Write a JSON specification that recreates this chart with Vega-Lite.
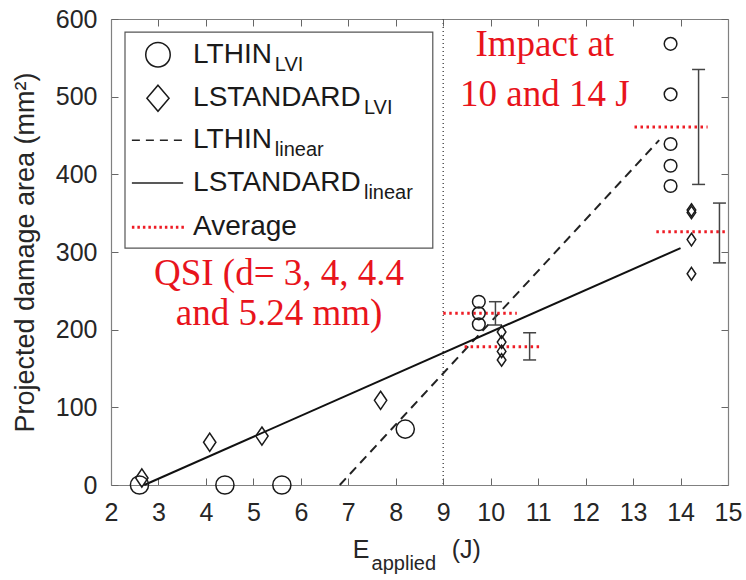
{
  "$schema": "https://vega.github.io/schema/vega-lite/v6.json",
  "width": 617,
  "height": 466,
  "autosize": "none",
  "padding": {"left": 111, "top": 19, "right": 18, "bottom": 95},
  "background": "white",
  "view": {"stroke": null},
  "config": {"font": "Liberation Sans"},
  "datasets": {
    "circles": [
      {"E": 2.6, "A": 0, "group": "QSI"},
      {"E": 4.4, "A": 0, "group": "QSI"},
      {"E": 5.6, "A": 0, "group": "QSI"},
      {"E": 8.2, "A": 72, "group": "QSI"},
      {"E": 9.75, "A": 236, "group": "Impact"},
      {"E": 9.75, "A": 221, "group": "Impact"},
      {"E": 9.75, "A": 207, "group": "Impact"},
      {"E": 13.79, "A": 568, "group": "Impact"},
      {"E": 13.79, "A": 503, "group": "Impact"},
      {"E": 13.79, "A": 439, "group": "Impact"},
      {"E": 13.79, "A": 411, "group": "Impact"},
      {"E": 13.79, "A": 385, "group": "Impact"}
    ],
    "diamonds": [
      {"E": 2.65, "A": 9, "group": "QSI"},
      {"E": 4.08, "A": 55, "group": "QSI"},
      {"E": 5.18, "A": 63, "group": "QSI"},
      {"E": 7.68, "A": 109, "group": "QSI"},
      {"E": 10.23, "A": 197, "group": "Impact"},
      {"E": 10.23, "A": 184, "group": "Impact"},
      {"E": 10.23, "A": 172, "group": "Impact"},
      {"E": 10.23, "A": 161, "group": "Impact"},
      {"E": 14.23, "A": 354, "group": "Impact"},
      {"E": 14.23, "A": 351, "group": "Impact"},
      {"E": 14.23, "A": 316, "group": "Impact"},
      {"E": 14.23, "A": 272, "group": "Impact"}
    ],
    "thinFit": [{"E": 6.82, "A": 0}, {"E": 13.55, "A": 444}],
    "stdFit": [{"E": 2.7, "A": 0}, {"E": 14.0, "A": 305}],
    "averages": [
      {"E1": 9.0, "E2": 10.55, "A": 221},
      {"E1": 9.45, "E2": 11.03, "A": 178},
      {"E1": 13.03, "E2": 14.57, "A": 461},
      {"E1": 13.49, "E2": 15.0, "A": 326}
    ],
    "errors": [
      {"E": 10.1, "lo": 206, "hi": 236},
      {"E": 10.82, "lo": 161, "hi": 196},
      {"E": 14.38, "lo": 387, "hi": 535},
      {"E": 14.82, "lo": 286, "hi": 363}
    ],
    "legendBox": [{"E1": 2.295, "E2": 8.78, "A1": 305, "A2": 583}],
    "legendCircle": [{"E": 2.99, "A": 554}],
    "legendDiamond": [{"E": 2.99, "A": 498}],
    "legendDashed": [{"E1": 2.44, "E2": 3.52, "A": 444}],
    "legendSolid": [{"E1": 2.44, "E2": 3.52, "A": 389}],
    "legendAvg": [{"E1": 2.44, "E2": 3.56, "A": 332}],
    "legendMain": [
      {"E": 3.73, "A": 554, "label": "LTHIN"},
      {"E": 3.73, "A": 498, "label": "LSTANDARD"},
      {"E": 3.73, "A": 444, "label": "LTHIN"},
      {"E": 3.73, "A": 389, "label": "LSTANDARD"},
      {"E": 3.73, "A": 332, "label": "Average"}
    ],
    "legendSub": [
      {"E": 5.45, "A": 541, "label": "LVI"},
      {"E": 7.33, "A": 485, "label": "LVI"},
      {"E": 5.45, "A": 431, "label": "linear"},
      {"E": 7.33, "A": 376, "label": "linear"}
    ],
    "notes": [
      {"E": 11.14, "A": 553, "label": "Impact at"},
      {"E": 11.14, "A": 488, "label": "10 and 14 J"},
      {"E": 5.54, "A": 258, "label": "QSI (d= 3, 4, 4.4"},
      {"E": 5.54, "A": 206, "label": "and 5.24 mm)"}
    ],
    "xTitleMain": [
      {"E": 7.095, "A": -94, "label": "E"},
      {"E": 9.18, "A": -94, "label": "(J)"}
    ],
    "xTitleSub": [{"E": 7.49, "A": -110, "label": "applied"}]
  },
  "resolve": {"axis": {"x": "independent", "y": "independent"}},
  "layer": [
    {
      "data": {"values": [{"E": 9}]},
      "mark": {"type": "rule", "stroke": "#555555", "strokeWidth": 1.5, "strokeDash": [1, 3]},
      "encoding": {
        "x": {"field": "E", "type": "quantitative", "scale": {"domain": [2, 15], "nice": false, "zero": false}, "axis": null}
      }
    },
    {
      "data": {"name": "thinFit"},
      "mark": {"type": "line", "stroke": "#222222", "strokeWidth": 2, "strokeDash": [9, 6]},
      "encoding": {
        "x": {"field": "E", "type": "quantitative", "axis": null},
        "y": {"field": "A", "type": "quantitative", "scale": {"domain": [0, 600], "nice": false}, "axis": null}
      }
    },
    {
      "data": {"name": "stdFit"},
      "mark": {"type": "line", "stroke": "#111111", "strokeWidth": 2},
      "encoding": {
        "x": {"field": "E", "type": "quantitative", "axis": null},
        "y": {"field": "A", "type": "quantitative", "axis": null}
      }
    },
    {
      "data": {"name": "averages"},
      "mark": {"type": "rule", "stroke": "#ee1c25", "strokeWidth": 3, "strokeDash": [2.5, 3.5]},
      "encoding": {
        "x": {"field": "E1", "type": "quantitative", "axis": null},
        "x2": {"field": "E2"},
        "y": {"field": "A", "type": "quantitative", "axis": null}
      }
    },
    {
      "data": {"name": "errors"},
      "mark": {"type": "rule", "stroke": "#444444", "strokeWidth": 1.5},
      "encoding": {
        "x": {"field": "E", "type": "quantitative", "axis": null},
        "y": {"field": "lo", "type": "quantitative", "axis": null},
        "y2": {"field": "hi"}
      }
    },
    {
      "data": {"name": "errors"},
      "mark": {"type": "tick", "orient": "horizontal", "size": 13, "thickness": 1.5, "color": "#444444", "opacity": 1},
      "encoding": {
        "x": {"field": "E", "type": "quantitative", "axis": null},
        "y": {"field": "lo", "type": "quantitative", "axis": null}
      }
    },
    {
      "data": {"name": "errors"},
      "mark": {"type": "tick", "orient": "horizontal", "size": 13, "thickness": 1.5, "color": "#444444", "opacity": 1},
      "encoding": {
        "x": {"field": "E", "type": "quantitative", "axis": null},
        "y": {"field": "hi", "type": "quantitative", "axis": null}
      }
    },
    {
      "data": {"name": "circles"},
      "mark": {"type": "point", "shape": "circle", "stroke": "#1a1a1a", "strokeWidth": 1.5, "fill": null, "filled": false, "opacity": 1},
      "encoding": {
        "x": {
          "field": "E", "type": "quantitative",
          "axis": {
            "orient": "bottom", "values": [2, 3, 4, 5, 6, 7, 8, 9, 10, 11, 12, 13, 14, 15],
            "title": null, "grid": false, "tickSize": -7, "tickColor": "#666666", "tickWidth": 1,
            "domainColor": "#808080", "domainWidth": 1.2, "labelFlush": false, "labelBound": false, "labelOverlap": false,
            "labelFontSize": 25, "labelColor": "#262626", "labelPadding": 22
          }
        },
        "y": {
          "field": "A", "type": "quantitative",
          "axis": {
            "orient": "left", "values": [0, 100, 200, 300, 400, 500, 600],
            "title": "Projected damage area (mm²)", "titleFontSize": 27, "titleFontWeight": "normal",
            "titleColor": "#262626", "titlePadding": 16, "labelFlush": false, "labelBound": false, "labelOverlap": false,
            "grid": false, "tickSize": -7, "tickColor": "#666666", "tickWidth": 1,
            "domainColor": "#808080", "domainWidth": 1.2,
            "labelFontSize": 25, "labelColor": "#262626", "labelPadding": 21
          }
        },
        "size": {"field": "group", "type": "nominal", "scale": {"domain": ["QSI", "Impact"], "range": [330, 160]}, "legend": null}
      }
    },
    {
      "data": {"name": "diamonds"},
      "mark": {"type": "point", "shape": "M0,-1L0.68,0L0,1L-0.68,0Z", "stroke": "#1a1a1a", "strokeWidth": 1.5, "fill": null, "filled": false, "opacity": 1},
      "encoding": {
        "x": {
          "field": "E", "type": "quantitative",
          "axis": {
            "orient": "top", "values": [2, 3, 4, 5, 6, 7, 8, 9, 10, 11, 12, 13, 14, 15],
            "title": null, "grid": false, "labels": false, "tickSize": -7, "tickColor": "#666666",
            "domainColor": "#808080", "domainWidth": 1.2
          }
        },
        "y": {
          "field": "A", "type": "quantitative",
          "axis": {
            "orient": "right", "values": [0, 100, 200, 300, 400, 500, 600],
            "title": null, "grid": false, "labels": false, "tickSize": -7, "tickColor": "#666666",
            "domainColor": "#808080", "domainWidth": 1.2
          }
        },
        "size": {"field": "group", "type": "nominal", "scale": {"domain": ["QSI", "Impact"], "range": [620, 300]}, "legend": null}
      }
    },
    {
      "data": {"name": "legendBox"},
      "mark": {"type": "rect", "fill": "white", "stroke": "#555555", "strokeWidth": 1.2},
      "encoding": {
        "x": {"field": "E1", "type": "quantitative", "axis": null},
        "x2": {"field": "E2"},
        "y": {"field": "A1", "type": "quantitative", "axis": null},
        "y2": {"field": "A2"}
      }
    },
    {
      "data": {"name": "legendCircle"},
      "mark": {"type": "point", "shape": "circle", "size": 600, "stroke": "#1a1a1a", "strokeWidth": 1.5, "filled": false, "opacity": 1},
      "encoding": {
        "x": {"field": "E", "type": "quantitative", "axis": null},
        "y": {"field": "A", "type": "quantitative", "axis": null}
      }
    },
    {
      "data": {"name": "legendDiamond"},
      "mark": {"type": "point", "shape": "M0,-1L0.85,0L0,1L-0.85,0Z", "size": 680, "stroke": "#1a1a1a", "strokeWidth": 1.5, "filled": false, "opacity": 1},
      "encoding": {
        "x": {"field": "E", "type": "quantitative", "axis": null},
        "y": {"field": "A", "type": "quantitative", "axis": null}
      }
    },
    {
      "data": {"name": "legendDashed"},
      "mark": {"type": "rule", "stroke": "#222222", "strokeWidth": 1.5, "strokeDash": [8, 6]},
      "encoding": {
        "x": {"field": "E1", "type": "quantitative", "axis": null},
        "x2": {"field": "E2"},
        "y": {"field": "A", "type": "quantitative", "axis": null}
      }
    },
    {
      "data": {"name": "legendSolid"},
      "mark": {"type": "rule", "stroke": "#222222", "strokeWidth": 1.5},
      "encoding": {
        "x": {"field": "E1", "type": "quantitative", "axis": null},
        "x2": {"field": "E2"},
        "y": {"field": "A", "type": "quantitative", "axis": null}
      }
    },
    {
      "data": {"name": "legendAvg"},
      "mark": {"type": "rule", "stroke": "#ee1c25", "strokeWidth": 3, "strokeDash": [2.5, 3]},
      "encoding": {
        "x": {"field": "E1", "type": "quantitative", "axis": null},
        "x2": {"field": "E2"},
        "y": {"field": "A", "type": "quantitative", "axis": null}
      }
    },
    {
      "data": {"name": "legendMain"},
      "mark": {"type": "text", "align": "left", "baseline": "middle", "fontSize": 28, "color": "#1a1a1a"},
      "encoding": {
        "x": {"field": "E", "type": "quantitative", "axis": null},
        "y": {"field": "A", "type": "quantitative", "axis": null},
        "text": {"field": "label"}
      }
    },
    {
      "data": {"name": "legendSub"},
      "mark": {"type": "text", "align": "left", "baseline": "middle", "fontSize": 20, "color": "#1a1a1a"},
      "encoding": {
        "x": {"field": "E", "type": "quantitative", "axis": null},
        "y": {"field": "A", "type": "quantitative", "axis": null},
        "text": {"field": "label"}
      }
    },
    {
      "data": {"name": "notes"},
      "mark": {"type": "text", "align": "center", "baseline": "alphabetic", "font": "Liberation Serif", "fontSize": 37, "color": "#e8141c"},
      "encoding": {
        "x": {"field": "E", "type": "quantitative", "axis": null},
        "y": {"field": "A", "type": "quantitative", "axis": null},
        "text": {"field": "label"}
      }
    },
    {
      "data": {"name": "xTitleMain"},
      "mark": {"type": "text", "align": "left", "baseline": "alphabetic", "fontSize": 25, "color": "#262626"},
      "encoding": {
        "x": {"field": "E", "type": "quantitative", "axis": null},
        "y": {"field": "A", "type": "quantitative", "axis": null},
        "text": {"field": "label"}
      }
    },
    {
      "data": {"name": "xTitleSub"},
      "mark": {"type": "text", "align": "left", "baseline": "alphabetic", "fontSize": 20, "color": "#262626"},
      "encoding": {
        "x": {"field": "E", "type": "quantitative", "axis": null},
        "y": {"field": "A", "type": "quantitative", "axis": null},
        "text": {"field": "label"}
      }
    }
  ]
}
